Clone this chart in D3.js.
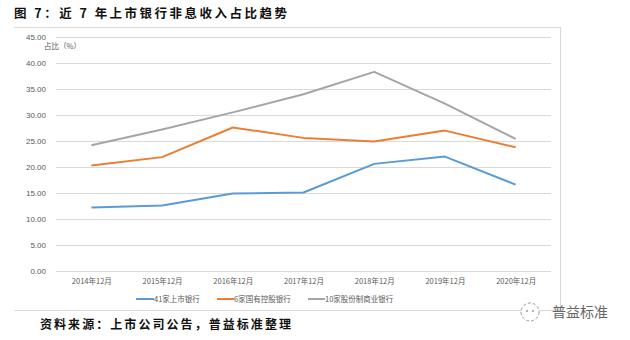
<!DOCTYPE html>
<html><head><meta charset="utf-8">
<script src="https://cdn.jsdelivr.net/npm/d3@7"></script>
<style>body{margin:0;background:#fff;}svg{display:block;}</style>
</head><body>
<svg id="c" width="630" height="340"></svg>
<script>
const categories = ["2014年12月","2015年12月","2016年12月","2017年12月","2018年12月","2019年12月","2020年12月"];
const seriesNames = ["41家上市银行","6家国有控股银行","10家股份制商业银行"];
const listedBanks = [12.2, 12.6, 14.9, 15.1, 20.6, 22.0, 16.6];
const stateBanks = [20.3, 21.9, 27.6, 25.6, 24.9, 27.0, 23.8];
const jointStockBanks = [24.2, 27.2, 30.5, 34.0, 38.3, 32.2, 25.4];
const yTicks = [0,5,10,15,20,25,30,35,40,45];
const colors = ["#5B9BD5","#ED7D31","#A5A5A5"];
const series = [listedBanks, stateBanks, jointStockBanks];

const svg = d3.select("#c");
const font = "'Noto Sans CJK SC', sans-serif";

// title
svg.append("text").attr("x",14).attr("y",18).attr("font-family",font).attr("font-weight","bold")
  .attr("font-size",12.5).attr("fill","#111").attr("textLength",273).attr("lengthAdjust","spacing")
  .text("图 7：近 7 年上市银行非息收入占比趋势");

// frame
svg.append("line").attr("x1",14).attr("x2",560).attr("y1",27.5).attr("y2",27.5).attr("stroke","#d9d9d9");
svg.append("line").attr("x1",560.5).attr("x2",560.5).attr("y1",27).attr("y2",310).attr("stroke","#d9d9d9");
svg.append("line").attr("x1",14).attr("x2",560).attr("y1",310.5).attr("y2",310.5).attr("stroke","#d9d9d9");

const x = d3.scalePoint().domain(categories).range([56,551]).padding(0.5);
const y = d3.scaleLinear().domain([0,45]).range([271,37]);

// grid
const gy = svg.append("g").attr("transform","translate(56,0)")
  .call(d3.axisLeft(y).tickValues(yTicks).tickSize(-495).tickFormat(d3.format(".2f")).tickPadding(10));
gy.select(".domain").remove();
gy.selectAll(".tick line").attr("stroke","#d9d9d9").attr("stroke-width",1);
gy.selectAll(".tick text").attr("font-family","'Liberation Sans', sans-serif").attr("font-size",8).attr("fill","#595959");

svg.append("text").attr("x",44).attr("y",49).attr("font-family",font).attr("font-size",7.5).attr("fill","#595959").text("占比（%）");

// x axis
const gx = svg.append("g").attr("transform","translate(0,271)")
  .call(d3.axisBottom(x).tickSize(0).tickPadding(8));
gx.select(".domain").remove();
gx.selectAll(".tick text").attr("font-family",font).attr("font-size",7.5).attr("fill","#595959");

// lines
const line = d3.line().x((d,i)=>x(categories[i])).y(d=>y(d));
series.forEach((s,k)=>{
  svg.append("path").datum(s).attr("d",line).attr("fill","none").attr("stroke",colors[k])
    .attr("stroke-width",2).attr("stroke-linejoin","round");
});

// legend
const lg = [{x:136,w:18},{x:217,w:17},{x:308,w:17}];
seriesNames.forEach((n,k)=>{
  svg.append("line").attr("x1",lg[k].x).attr("x2",lg[k].x+lg[k].w).attr("y1",299).attr("y2",299)
    .attr("stroke",colors[k]).attr("stroke-width",2);
  svg.append("text").attr("x",lg[k].x+lg[k].w).attr("y",302).attr("font-family",font).attr("font-size",7.5)
    .attr("fill","#595959").text(n);
});

// source
svg.append("text").attr("x",40).attr("y",329).attr("font-family",font).attr("font-weight","bold")
  .attr("font-size",12).attr("fill","#111").attr("textLength",251).attr("lengthAdjust","spacing")
  .text("资料来源：上市公司公告，普益标准整理");

// watermark
svg.append("circle").attr("cx",530).attr("cy",312).attr("r",9).attr("fill","#fff").attr("stroke","#9a9a9a")
  .attr("stroke-dasharray","3,2").attr("stroke-width",1);
svg.append("circle").attr("cx",527).attr("cy",311).attr("r",1).attr("fill","#9a9a9a");
svg.append("circle").attr("cx",533).attr("cy",311).attr("r",1).attr("fill","#9a9a9a");
svg.append("text").attr("x",552).attr("y",317).attr("font-family",font).attr("font-size",14)
  .attr("fill","#666").text("普益标准");
</script>
</body></html>
